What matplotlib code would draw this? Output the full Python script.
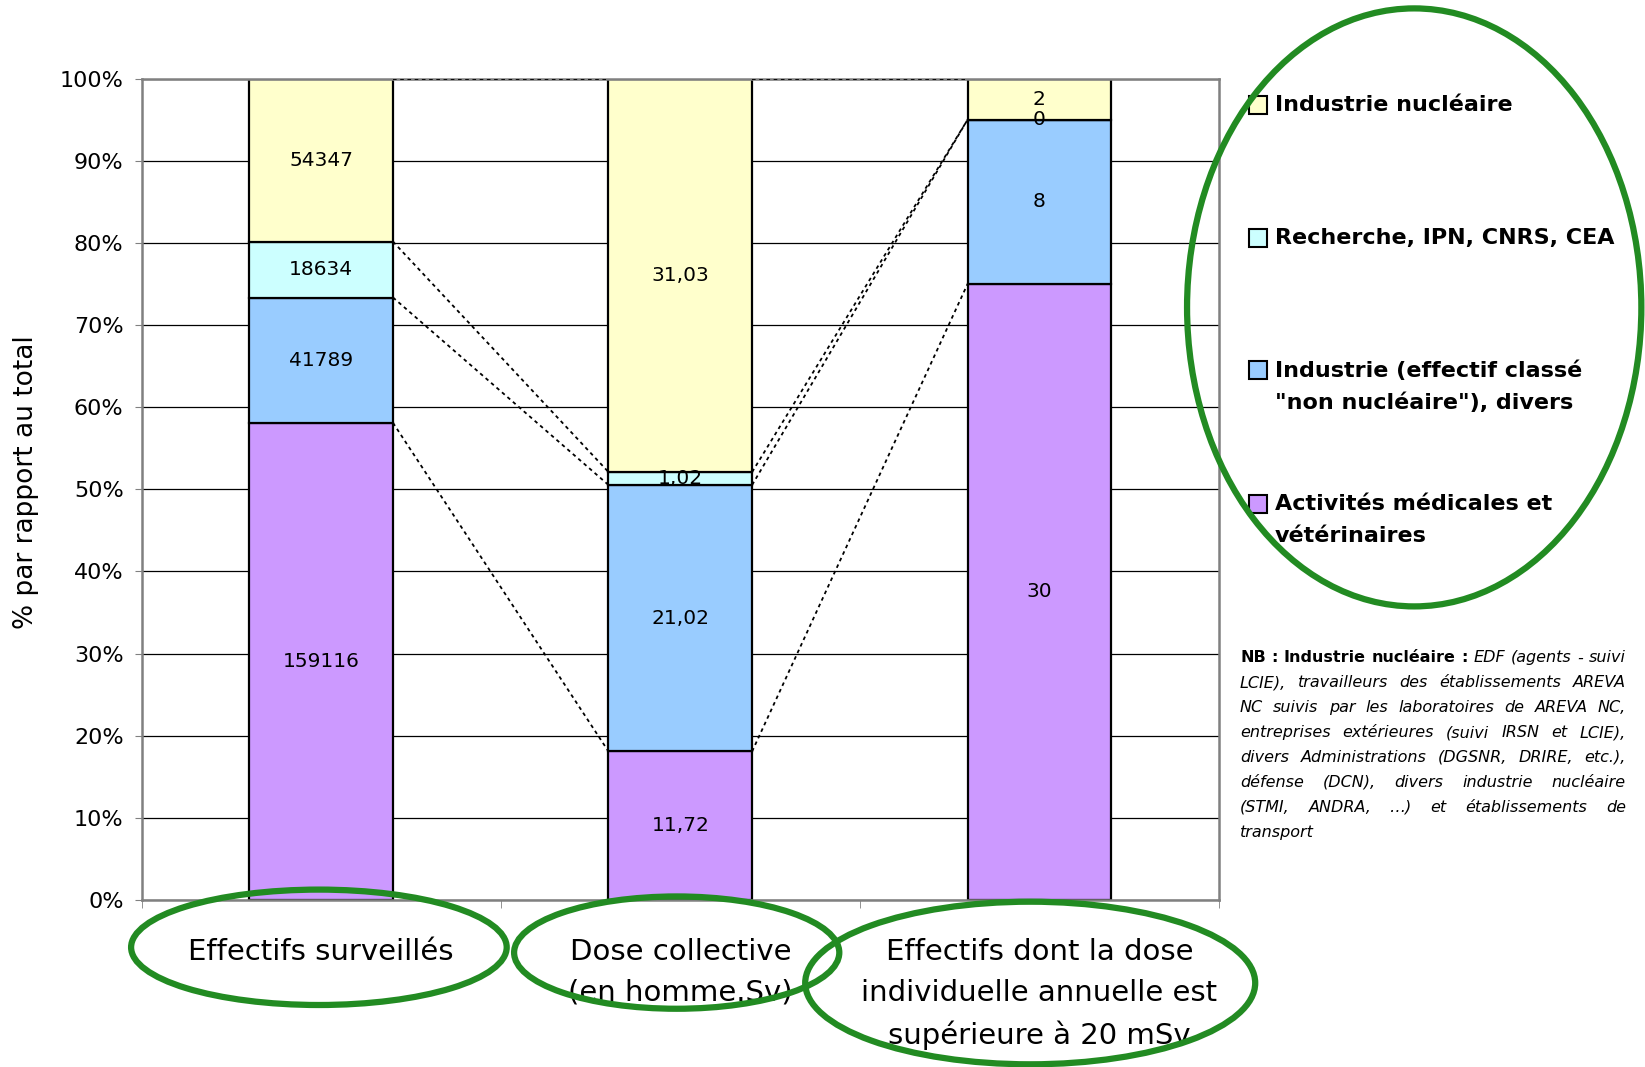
import matplotlib
matplotlib.use("Agg")
import matplotlib.pyplot as plt
from matplotlib.patches import Ellipse, Rectangle

# categories on the x axis
categories = ["Effectifs surveillés",
              "Dose collective\n(en homme.Sv)",
              "Effectifs dont la dose\nindividuelle annuelle est\nsupérieure à 20 mSv"]

# raw values per sector (bottom of the stack first)
medical = [159116, 11.72, 30]
industrie = [41789, 21.02, 8]
recherche = [18634, 1.02, 0]
nucleaire = [54347, 31.03, 2]

series_names = ["Activités médicales et\nvétérinaires",
                'Industrie (effectif classé\n"non nucléaire"), divers',
                "Recherche, IPN, CNRS, CEA",
                "Industrie nucléaire"]
series_colors = ["#CC99FF", "#99CCFF", "#CCFFFF", "#FFFFCC"]

yticks = [0, 10, 20, 30, 40, 50, 60, 70, 80, 90, 100]
ylabel = "% par rapport au total"

# note under the legend (line breaks as in the original, first 5 words in bold)
nb_lines = ["NB : Industrie nucléaire : EDF (agents - suivi",
            "LCIE), travailleurs des établissements AREVA",
            "NC suivis par les laboratoires de AREVA NC,",
            "entreprises extérieures (suivi IRSN et LCIE),",
            "divers Administrations (DGSNR, DRIRE, etc.),",
            "défense (DCN), divers industrie nucléaire",
            "(STMI, ANDRA, …) et établissements de",
            "transport"]
nb_bold_words = 5

W, H = 1645, 1067
GREEN = "#228B22"


def fmt(v):
    if isinstance(v, float):
        return f"{v:.2f}".replace(".", ",")
    return str(v)


def fx(px):  # pixel -> figure fraction
    return px / W


def fy(py):  # pixel from top -> figure fraction
    return 1 - py / H


fig = plt.figure(figsize=(W / 100, H / 100), dpi=100)
ax = fig.add_axes([0.0861, 0.1565, 0.6549, 0.7698])

series = [medical, industrie, recherche, nucleaire]
totals = [sum(v) for v in zip(*series)]
pct = [[v / t * 100 for v, t in zip(s, totals)] for s in series]

x = list(range(len(categories)))
width = 0.4
bottom = [0.0] * len(categories)
tops = []
for vals, p, color in zip(series, pct, series_colors):
    ax.bar(x, p, width, bottom=bottom, color=color, edgecolor="black", linewidth=1.6, zorder=2)
    for i in x:
        ax.text(i, bottom[i] + p[i] / 2, fmt(vals[i]), ha="center", va="center", fontsize=14.5, zorder=4)
    bottom = [b + q for b, q in zip(bottom, p)]
    tops.append(bottom)

# dotted series lines between the bars
for top in tops:
    for i in range(len(categories) - 1):
        ax.plot([i + width / 2, i + 1 - width / 2], [top[i], top[i + 1]],
                color="black", linestyle=(0, (2, 2)), linewidth=1.3, zorder=3)

ax.set_xlim(-0.5, 2.5)
ax.set_ylim(0, 100)
ax.set_yticks(yticks)
ax.set_yticklabels([f"{t}%" for t in yticks])
ax.tick_params(axis="y", labelsize=16, length=5, pad=8, color="#808080")
ax.set_xticks(x)
ax.set_xticklabels(categories, fontsize=21, linespacing=1.6)
ax.tick_params(axis="x", which="major", length=0, pad=27)
ax.set_xticks([-0.5, 0.5, 1.5, 2.5], minor=True)
ax.tick_params(axis="x", which="minor", length=6, color="#808080")
ax.yaxis.grid(True, color="black", linewidth=0.9)
ax.set_axisbelow(True)
for s in ax.spines.values():
    s.set_color("#808080")
    s.set_linewidth(1.8)

fig.text(fx(26), fy(482), ylabel, rotation=90, ha="center", va="center", fontsize=19)

# legend (top of the stack first)
legend_y = [104.9, 238.2, 370.3, 503.6]
for name, color, y in zip(series_names[::-1], series_colors[::-1], legend_y):
    fig.add_artist(Rectangle((fx(1249), fy(y + 9)), 18 / W, 18 / H, transform=fig.transFigure,
                             facecolor=color, edgecolor="black", linewidth=1.5))
    for k, line in enumerate(name.split("\n")):
        fig.text(fx(1275), fy(y + k * 32.6), line, fontsize=16, weight="bold", va="center")

# justified note
renderer = fig.canvas.get_renderer()
x0, x1, y0, dy = 1240, 1626, 657.8, 24.9
for n, line in enumerate(nb_lines):
    words = line.split(" ")
    texts = []
    for k, w in enumerate(words):
        bold = n == 0 and k < nb_bold_words
        texts.append(fig.text(0, fy(y0 + n * dy), w, fontsize=11.5, va="center",
                              weight="bold" if bold else "normal",
                              style="normal" if bold else "italic"))
    widths = [t.get_window_extent(renderer).width for t in texts]
    if n < len(nb_lines) - 1 and len(texts) > 1:
        gap = (x1 - x0 - sum(widths)) / (len(texts) - 1)
    else:
        gap = 5
    pos = x0
    for t, w in zip(texts, widths):
        t.set_x(fx(pos))
        pos += w + gap

# green hand-drawn style ellipses
rings = [(318.9, 947.3, 375.6, 115.4),
         (676.7, 952.6, 325.2, 112.3),
         (1030.2, 983.0, 450.0, 162.6),
         (1414.2, 307.4, 454.3, 598.0)]
for cx, cy, w, h in rings:
    fig.add_artist(Ellipse((fx(cx), fy(cy)), w / W, h / H, transform=fig.transFigure,
                           fill=False, edgecolor=GREEN, linewidth=4.5, zorder=10))

fig.savefig("out.png", dpi=100)
